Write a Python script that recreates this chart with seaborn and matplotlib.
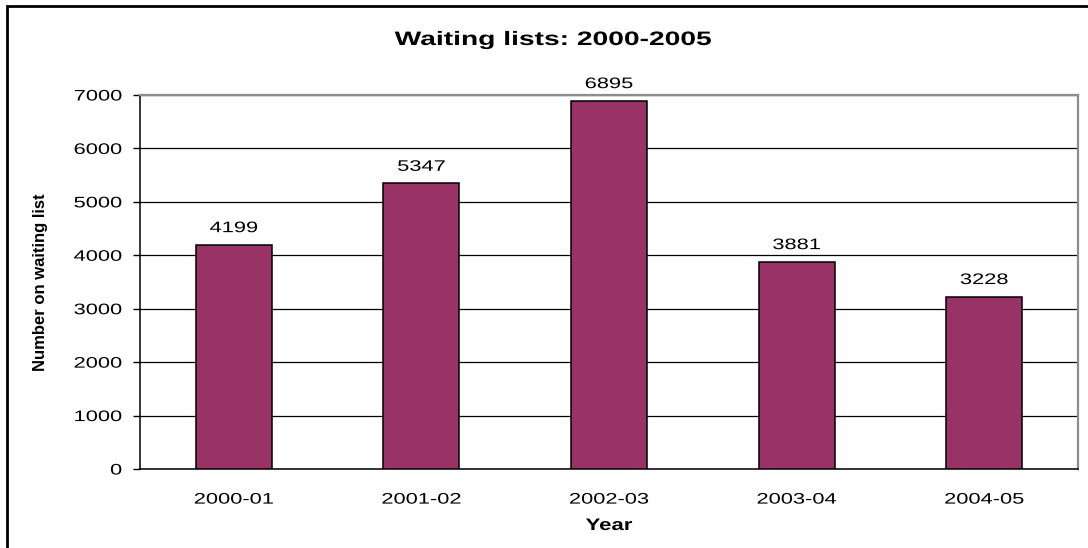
import matplotlib
matplotlib.use("Agg")
import matplotlib.pyplot as plt
import seaborn as sns
import pandas as pd
from matplotlib.patches import Rectangle
from matplotlib.patheffects import AbstractPathEffect
from matplotlib.transforms import Affine2D

# Waiting list totals by financial year
years = ["2000-01", "2001-02", "2002-03", "2003-04", "2004-05"]
counts = [4199, 5347, 6895, 3881, 3228]
y_ticks = [0, 1000, 2000, 3000, 4000, 5000, 6000, 7000]


class WideText(AbstractPathEffect):
    """Widen glyphs horizontally about a fixed point of the ink box."""

    def __init__(self, sx=1.43, anchor=0.5):
        super().__init__()
        self.sx = sx
        self.anchor = anchor

    def draw_path(self, renderer, gc, tpath, affine, rgbFace=None):
        ext = tpath.get_extents(affine)
        px = ext.x0 + self.anchor * ext.width
        stretch = Affine2D().translate(-px, 0).scale(self.sx, 1).translate(px, 0)
        renderer.draw_path(gc, tpath, affine + stretch, rgbFace)


sns.set_style("white")
plt.rcParams["font.family"] = ["Liberation Sans", "DejaVu Sans"]
for key in ["text.color", "axes.labelcolor", "xtick.color", "ytick.color"]:
    plt.rcParams[key] = "black"

df = pd.DataFrame({"Year": years, "Count": counts})

W, H = 1088, 548
fig = plt.figure(figsize=(W / 100, H / 100), dpi=100)
ax = fig.add_axes([140 / W, 1 - 469 / H, (1078 - 140) / W, (469 - 95) / H])

sns.barplot(data=df, x="Year", y="Count", color="#993366", width=0.405,
            edgecolor="black", linewidth=1.1, saturation=1, ax=ax, zorder=3)

ax.set_ylim(0, 7000)
ax.set_xlim(-0.5, len(years) - 0.5)
ax.set_yticks(y_ticks)
ax.set_yticklabels([str(t) for t in y_ticks], fontsize=11)
ax.yaxis.grid(True, color="black", linewidth=0.9, zorder=0)
ax.xaxis.grid(False)

# category ticks sit on the boundaries between bars
ax.set_xticks(range(len(years)))
ax.set_xticklabels(years, fontsize=11)
ax.tick_params(axis="x", length=0, pad=17)
ax.set_xticks([i - 0.5 for i in range(len(years) + 1)], minor=True)
ax.tick_params(axis="x", which="minor", direction="out", length=4, width=1, color="black")
ax.tick_params(axis="y", direction="out", length=5, width=1, color="black", pad=8, left=True)

for lbl in ax.get_yticklabels():
    lbl.set_path_effects([WideText(anchor=1.0)])
for lbl in ax.get_xticklabels():
    lbl.set_path_effects([WideText(anchor=0.5)])

for side in ["left", "bottom"]:
    ax.spines[side].set_color("black")
    ax.spines[side].set_linewidth(1.1)
for side in ["top", "right"]:
    ax.spines[side].set_visible(True)
    ax.spines[side].set_color("#8c8c8c")
    ax.spines[side].set_linewidth(1.6)

for i, v in enumerate(counts):
    ax.annotate(str(v), (i, v), xytext=(0, 9), textcoords="offset points",
                ha="center", va="baseline", fontsize=11,
                path_effects=[WideText(anchor=0.5)])

fig.text(553 / W, 1 - 45 / H, "Waiting lists: 2000-2005", fontsize=14,
         fontweight="bold", ha="center", va="baseline",
         path_effects=[WideText(sx=1.45, anchor=0.5)])

ax.set_xlabel("Year", fontsize=12, fontweight="bold")
ax.xaxis.set_label_coords(0.5, -(530 - 469) / (469 - 95))
ax.xaxis.label.set_va("baseline")
ax.xaxis.label.set_path_effects([WideText(sx=1.33, anchor=0.5)])

ax.set_ylabel("Number on waiting list", fontsize=12, fontweight="bold")
ax.yaxis.set_label_coords(-(140 - 41) / (1078 - 140), 0.5)
ax.yaxis.label.set_va("center")

# outer chart frame
fig.patches.append(Rectangle((7 / W, -0.05), 1.1, 1 - 6 / H + 0.05,
                             transform=fig.transFigure, fill=False,
                             edgecolor="black", linewidth=2))

fig.savefig("out.png", dpi=100)
